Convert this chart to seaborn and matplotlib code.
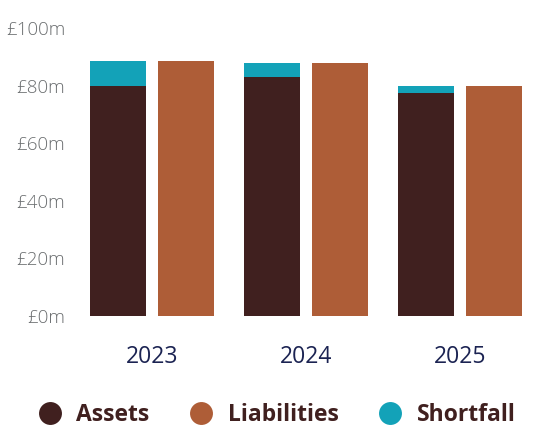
import matplotlib
matplotlib.use("Agg")
import matplotlib.pyplot as plt
import seaborn as sns
import pandas as pd
from matplotlib.lines import Line2D

years = ["2023", "2024", "2025"]
assets = [79.9, 83.0, 77.4]
shortfall = [8.6, 4.8, 2.5]
liabilities = [88.5, 87.8, 79.9]
y_ticks = [0, 20, 40, 60, 80, 100]
y_labels = ["£0m", "£20m", "£40m", "£60m", "£80m", "£100m"]

c_assets = "#40201F"
c_liab = "#AE5D37"
c_short = "#13A2B8"

sns.set_theme(style="white")
plt.rcParams["font.family"] = ["Open Sans", "DejaVu Sans"]

fig = plt.figure(figsize=(5.44, 4.26), dpi=100)
ax = fig.add_axes([75/544, 1-316/426, 462/544, 288/426])

top_df = pd.DataFrame({
    "year": years * 2,
    "kind": ["Assets"] * 3 + ["Liabilities"] * 3,
    "value": [a + s for a, s in zip(assets, shortfall)] + liabilities,
})
base_df = pd.DataFrame({
    "year": years * 2,
    "kind": ["Assets"] * 3 + ["Liabilities"] * 3,
    "value": assets + liabilities,
})

kw = dict(x="year", y="value", hue="kind", order=years,
          hue_order=["Assets", "Liabilities"], width=0.88, gap=0.18,
          legend=False, ax=ax, saturation=1, linewidth=0)
sns.barplot(data=top_df, palette={"Assets": c_short, "Liabilities": c_liab}, **kw)
sns.barplot(data=base_df, palette={"Assets": c_assets, "Liabilities": c_liab}, **kw)

ax.set_xlim(-0.5, 2.5)
ax.set_ylim(0, 100)
ax.set_yticks(y_ticks)
ax.set_yticklabels(y_labels, color="#6B6E70", fontsize=13.5, fontweight="light")
ax.tick_params(axis="y", length=0, pad=7)
ax.tick_params(axis="x", length=0, pad=21, labelsize=16.5, labelcolor="#1B2352")
ax.set_xlabel("")
ax.set_ylabel("")
for s in ax.spines.values():
    s.set_visible(False)
ax.grid(False)

handles = [Line2D([], [], marker="o", linestyle="", markersize=16.5,
                  markerfacecolor=c, markeredgewidth=0)
           for c in (c_assets, c_liab, c_short)]
leg = fig.legend(handles, ["Assets", "Liabilities", "Shortfall"], loc="center",
                 bbox_to_anchor=(277/544, 1-415/426), ncol=3, frameon=False,
                 handletextpad=0.65, columnspacing=1.75, handlelength=1.0,
                 borderpad=0.2,
                 prop={"size": 16.5, "weight": "bold"})
for t in leg.get_texts():
    t.set_color(c_assets)

fig.savefig("out.png", dpi=100)
